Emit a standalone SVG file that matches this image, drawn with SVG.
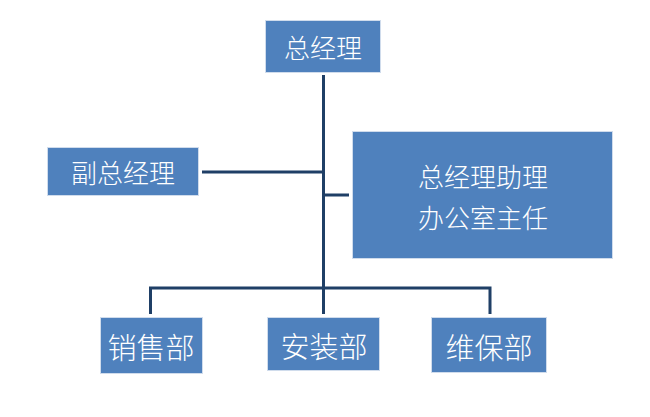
<svg xmlns="http://www.w3.org/2000/svg" width="650" height="417" viewBox="0 0 650 417">
<style>
.box{fill:#4f81bd;stroke:#d0dcec;stroke-width:1}
.t{fill:#ffffff;font-family:"Noto Sans CJK SC","Liberation Sans",sans-serif;font-weight:300;text-anchor:middle;dominant-baseline:central}
.c{fill:none;stroke:#1f3f66;stroke-width:3}
</style>
<rect width="650" height="417" fill="#ffffff"/>
<g id="connectors">
<line class="c" x1="323.5" y1="75" x2="323.5" y2="288"/>
<line class="c" x1="202" y1="172" x2="323.5" y2="172"/>
<line class="c" x1="323.5" y1="195" x2="349" y2="195"/>
<polyline class="c" points="150.5,314 150.5,288 490,288 490,314"/>
<line class="c" x1="323.5" y1="288" x2="323.5" y2="314"/>
</g>
<g id="n-gm">
<rect class="box" x="265.5" y="20.5" width="115" height="52"/>
<text class="t" x="323" y="46" font-size="26">总经理</text>
</g>
<g id="n-vgm">
<rect class="box" x="47.5" y="147.5" width="151" height="48"/>
<text class="t" x="123" y="171" font-size="26">副总经理</text>
</g>
<g id="n-assistant">
<rect class="box" x="352.5" y="131.5" width="260" height="127"/>
<text class="t" x="483" y="175" font-size="26">总经理助理</text>
<text class="t" x="483" y="216" font-size="26">办公室主任</text>
</g>
<g id="n-sales">
<rect class="box" x="100.5" y="317.5" width="102" height="56"/>
<text class="t" x="151" y="346" font-size="29">销售部</text>
</g>
<g id="n-install">
<rect class="box" x="267.5" y="317.5" width="112" height="53"/>
<text class="t" x="324" y="345" font-size="29">安装部</text>
</g>
<g id="n-maint">
<rect class="box" x="431.5" y="317.5" width="115" height="55"/>
<text class="t" x="489" y="346" font-size="29">维保部</text>
</g>
</svg>
